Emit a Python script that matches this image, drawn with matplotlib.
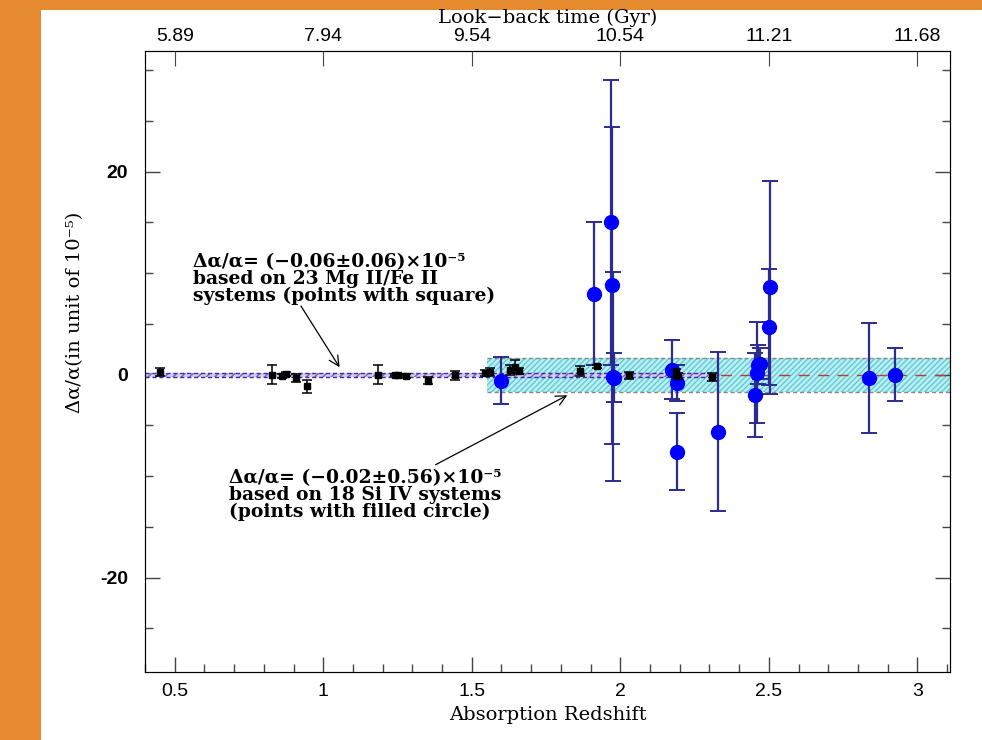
import matplotlib
matplotlib.use('Agg')
import matplotlib.pyplot as plt
from matplotlib.patches import Rectangle
from matplotlib.ticker import MultipleLocator

# Mg II / Fe II systems (black squares)
mg_z = [0.452, 0.826, 0.86, 0.875, 0.910, 0.945, 1.185, 1.24, 1.252, 1.28,
        1.353, 1.443, 1.545, 1.56, 1.63, 1.645, 1.66, 1.864, 1.92, 2.029,
        2.189, 2.195, 2.309]
mg_da = [0.25, 0.0, -0.15, 0.1, -0.36, -1.15, 0.0, -0.05, -0.05, -0.1,
         -0.6, -0.05, 0.2, 0.25, 0.5, 0.8, 0.35, 0.33, 0.83, -0.05,
         0.17, -0.1, -0.27]
mg_err = [0.4, 0.92, 0.2, 0.2, 0.4, 0.63, 0.92, 0.1, 0.1, 0.2,
          0.33, 0.45, 0.3, 0.4, 0.5, 0.6, 0.3, 0.5, 0.15, 0.35,
          0.4, 0.3, 0.4]

# Si IV systems (blue circles)
si_z = [1.600, 1.910, 1.968, 1.972, 1.975, 1.978, 2.174, 2.190, 2.190,
        2.330, 2.455, 2.460, 2.465, 2.470, 2.500, 2.505, 2.838, 2.926]
si_da = [-0.6, 8.0, 15.0, 8.8, -0.2, -0.3, 0.5, -0.8, -7.6,
         -5.6, -2.0, 0.2, 1.0, 1.1, 4.7, 8.6, -0.3, 0.0]
si_err = [2.3, 7.0, 14.0, 15.6, 10.3, 2.4, 2.9, 1.8, 3.8,
          7.8, 4.1, 5.0, 1.9, 1.5, 5.7, 10.5, 5.4, 2.6]

# weighted means
mg_mean, mg_sig = -0.06, 0.06
si_mean, si_sig = -0.02, 0.56

top_ticks = [0.5, 1.0, 1.5, 2.0, 2.5, 3.0]
top_labels = ['5.89', '7.94', '9.54', '10.54', '11.21', '11.68']

serif = 'DejaVu Serif'
sans = 'Liberation Sans'

fig = plt.figure(figsize=(9.82, 7.4), dpi=100, facecolor='#e58a2e')
fig.add_artist(Rectangle((41 / 982, 0), 1, 1 - 10 / 740, transform=fig.transFigure,
                         facecolor='white', edgecolor='none', zorder=-10))

ax = fig.add_axes([145 / 982, 1 - 672 / 740, (950 - 145) / 982, (672 - 51) / 740])
ax.set_xlim(0.4, 3.11)
ax.set_ylim(-29.3, 31.9)

# Si IV band (mean +- 3 sigma), hatched cyan
ax.fill_between([1.55, 3.11], si_mean - 3 * si_sig, si_mean + 3 * si_sig,
                facecolor='#bdeef2', edgecolor='#5fcdd6', hatch='//////',
                linewidth=0, zorder=1)
ax.hlines([si_mean - 3 * si_sig, si_mean + 3 * si_sig], 1.55, 3.11,
          colors='#888888', linestyles=(0, (3, 2)), linewidth=1, zorder=2)
ax.hlines(si_mean, 1.55, 3.11, colors='#b04040', linestyles=(0, (8, 6)),
          linewidth=1, zorder=2)

# Mg II band, thin purple
ax.fill_between([0.4, 2.33], mg_mean - 3 * mg_sig, mg_mean + 3 * mg_sig,
                facecolor='#d8c8f0', edgecolor='#8060c0', hatch='////',
                linewidth=0, zorder=2)
ax.hlines([mg_mean - 3 * mg_sig, mg_mean + 3 * mg_sig], 0.4, 2.33,
          colors='#3030a0', linestyles=(0, (3, 2)), linewidth=1, zorder=3)

ax.errorbar(si_z, si_da, yerr=si_err, fmt='o', color='#0000ff', ms=10,
            ecolor='#2c2c90', elinewidth=1.6, capsize=6, capthick=1.4, zorder=4)
ax.errorbar(mg_z, mg_da, yerr=mg_err, fmt='s', color='black', ms=5,
            ecolor='black', elinewidth=1.1, capsize=3.5, capthick=1.1, zorder=5)

# ticks
ax.xaxis.set_major_locator(MultipleLocator(0.5))
ax.xaxis.set_minor_locator(MultipleLocator(0.1))
ax.yaxis.set_major_locator(MultipleLocator(20))
ax.yaxis.set_minor_locator(MultipleLocator(5))
ax.tick_params(which='both', direction='in', right=True, top=False, color='#444444')
ax.tick_params(which='major', length=11, width=1)
ax.tick_params(which='minor', length=6, width=1)
ax.tick_params(axis='x', pad=8)
ax.tick_params(axis='y', pad=12)
ax.set_xticks(top_ticks)
ax.set_xticklabels(['0.5', '1', '1.5', '2', '2.5', '3'], fontfamily=sans, fontsize=14)
ax.set_yticks([-20, 0, 20])
ax.set_yticklabels(['-20', '0', '20'], fontfamily=sans, fontsize=14, fontweight='bold')
for s in ax.spines.values():
    s.set_color('#444444')

ax2 = ax.twiny()
ax2.set_xlim(ax.get_xlim())
ax2.set_xticks(top_ticks)
ax2.set_xticklabels(top_labels, fontfamily=sans, fontsize=14)
ax2.tick_params(direction='in', length=11, pad=4, color='#444444')
ax2.set_xlabel('Look\u2212back time (Gyr)', fontfamily=serif, fontsize=14, labelpad=4)

ax.set_xlabel('Absorption Redshift', fontfamily=serif, fontsize=14, labelpad=4)
fig.text(75 / 982, 1 - 312 / 740, '\u0394\u03b1/\u03b1(in unit of 10\u207b\u2075)',
         rotation=90, ha='center', va='center', fontfamily=serif, fontsize=14)

# annotations
kw = dict(transform=fig.transFigure, fontfamily=serif, fontsize=13.5,
          fontweight='bold', ha='left', va='center')
lines1 = ['\u0394\u03b1/\u03b1= (\u22120.06\u00b10.06)\u00d710\u207b\u2075',
          'based on 23 Mg II/Fe II',
          'systems (points with square)']
lines2 = ['\u0394\u03b1/\u03b1= (\u22120.02\u00b10.56)\u00d710\u207b\u2075',
          'based on 18 Si IV systems',
          '(points with filled circle)']
for i, t in enumerate(lines1):
    fig.text(193 / 982, 1 - (262 + 17 * i) / 740, t, **kw)
for i, t in enumerate(lines2):
    fig.text(229 / 982, 1 - (478 + 17 * i) / 740, t, **kw)

ax.annotate('', xy=(1.06, 0.5), xytext=(0.92, 7.0),
            arrowprops=dict(arrowstyle='->', lw=0.9, color='black',
                            mutation_scale=18))
ax.annotate('', xy=(1.83, -1.9), xytext=(1.37, -9.0),
            arrowprops=dict(arrowstyle='->', lw=0.9, color='black',
                            mutation_scale=18))

fig.savefig('out.png', dpi=100, facecolor=fig.get_facecolor())
